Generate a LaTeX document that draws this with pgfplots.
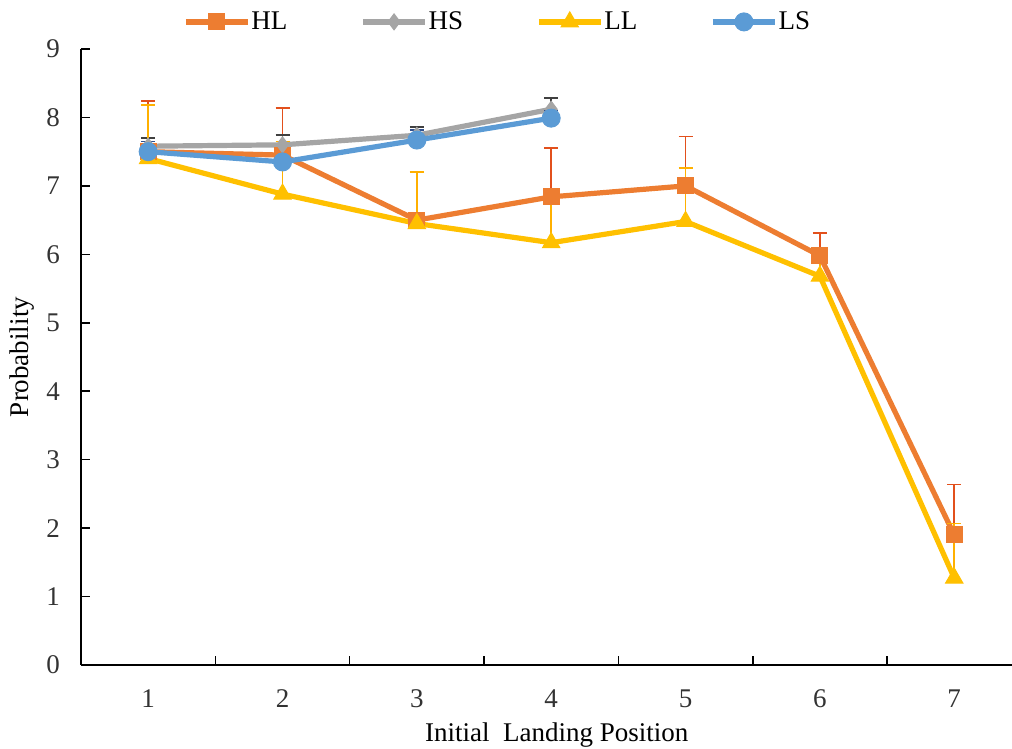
\documentclass[border=0pt]{standalone}
\usepackage{pgfplots}
\pgfplotsset{compat=1.18}
\usepackage{fontspec}
\setmainfont{Liberation Serif}
\definecolor{cHL}{HTML}{ED7D31}
\definecolor{cHS}{HTML}{A5A5A5}
\definecolor{cLL}{HTML}{FFC000}
\definecolor{cLS}{HTML}{5B9BD5}
\definecolor{eHL}{HTML}{E2501C}
\definecolor{eLL}{HTML}{FFB000}
\definecolor{eHS}{HTML}{404040}
\definecolor{eLS}{HTML}{2F4F8F}
\begin{document}
\begin{tikzpicture}
\path[use as bounding box] (-40.5pt,-42pt) rectangle (465.5pt,332.5pt);
\begin{axis}[
  scale only axis,
  width=465.5pt, height=308pt,
  xmin=0.5, xmax=7.43,
  ymin=0, ymax=9,
  axis lines=left,
  axis line style={-, line width=1pt, black},
  xtick={1,...,7},
  minor xtick={1.5,2.5,...,6.5},
  ytick={0,...,9},
  tick align=inside,
  major tick length=4.5pt,
  minor tick length=4.5pt,
  x tick style={draw=none},
  minor x tick style={draw=black, line width=0.8pt},
  y tick style={line width=0.8pt, black},
  /pgf/number format/assume math mode=true,
  tick label style={font=\fontsize{13.5}{15}\selectfont, text=black!80},
  yticklabel style={xshift=-7pt},
  xticklabel style={yshift=-9pt},
  xlabel={Initial\ \ Landing Position},
  ylabel={Probability},
  label style={font=\fontsize{13.5}{15}\selectfont},
  xlabel style={at={(axis description cs:0.511,0)}, anchor=north, yshift=-25.5pt},
  ylabel style={at={(axis description cs:0,0.5)}, anchor=south, yshift=20pt},
  legend columns=4,
  legend style={draw=none, fill=none, at={(axis description cs:0.447,1.044)}, anchor=center,
    font=\fontsize{13.5}{15}\selectfont,
    /tikz/every even column/.append style={column sep=36pt},
    nodes={inner sep=0.5pt}},
  legend image code/.code={\draw[mark repeat=2,mark phase=2,#1] plot coordinates {(0pt,0pt) (15.5pt,0pt) (31pt,0pt)};},
  every axis plot/.append style={line width=2.6pt},
  error bars/y dir=plus,
  error bars/y explicit,
  error bars/error mark=-,
  error bars/error mark options={line width=0.8pt, mark size=3.5pt, rotate=90},
  clip=false,
]
% HL
\addplot[color=cHL, mark=square*, mark size=4pt, mark options={solid, line width=0.5pt},
  error bars/error bar style={line width=0.8pt, eHL},
  error bars/error mark options={line width=0.8pt, mark size=3.5pt, rotate=90, eHL}]
  coordinates {
  (1,7.50) +- (0,0.74)
  (2,7.45) +- (0,0.69)
  (3,6.50) +- (0,0.70)
  (4,6.84) +- (0,0.71)
  (5,7.00) +- (0,0.72)
  (6,5.98) +- (0,0.33)
  (7,1.90) +- (0,0.74)
  };
\addlegendentry{HL}
% HS
\addplot[color=cHS, mark=diamond*, mark size=4pt, mark options={solid, line width=0.5pt},
  error bars/error bar style={line width=0.8pt, eHS},
  error bars/error mark options={line width=0.8pt, mark size=3.5pt, rotate=90, eHS}]
  coordinates {
  (1,7.58) +- (0,0.12)
  (2,7.60) +- (0,0.14)
  (3,7.74) +- (0,0.12)
  (4,8.12) +- (0,0.16)
  };
\addlegendentry{HS}
% LL
\addplot[color=cLL, mark=triangle*, mark size=5pt, mark options={solid, line width=0.5pt},
  error bars/error bar style={line width=0.8pt, eLL},
  error bars/error mark options={line width=0.8pt, mark size=3.5pt, rotate=90, eLL}]
  coordinates {
  (1,7.40) +- (0,0.78)
  (2,6.88) +- (0,0.77)
  (3,6.45) +- (0,0.75)
  (4,6.17) +- (0,0.73)
  (5,6.48) +- (0,0.78)
  (6,5.68) +- (0,0.37)
  (7,1.27) +- (0,0.80)
  };
\addlegendentry{LL}
% LS
\addplot[color=cLS, mark=*, mark size=4.5pt, mark options={solid, line width=0.5pt},
  error bars/error bar style={line width=0.8pt, eLS},
  error bars/error mark options={line width=0.8pt, mark size=3.5pt, rotate=90, eLS}]
  coordinates {
  (1,7.50) +- (0,0.15)
  (2,7.35) +- (0,0.10)
  (3,7.67) +- (0,0.15)
  (4,7.99) +- (0,0.11)
  };
\addlegendentry{LS}
\end{axis}
\end{tikzpicture}
\end{document}
